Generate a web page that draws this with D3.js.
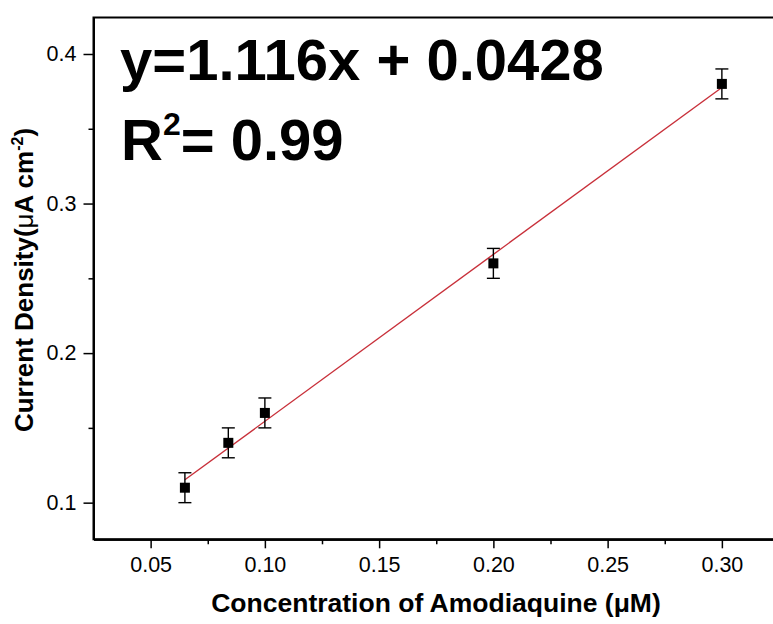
<!DOCTYPE html>
<html>
<head>
<meta charset="utf-8">
<script src="https://cdn.jsdelivr.net/npm/d3@7/dist/d3.min.js"></script>
<style>
  html, body { margin: 0; padding: 0; background: #fff; overflow: hidden; }
  svg { display: block; font-family: "Liberation Sans", Arial, sans-serif; }
</style>
</head>
<body>
<svg id="chart" width="773" height="624"></svg>
<script>
// Calibration data: concentration vs. current density
const concentration = [0.065, 0.084, 0.10, 0.20, 0.30];
const currentDensity = [0.11, 0.14, 0.16, 0.26, 0.38];
const errorBars = [0.01, 0.01, 0.01, 0.01, 0.01];

// Linear fit reported on the chart
const fitSlope = 1.116;
const fitIntercept = 0.0428;
const rSquared = "0.99";

const xTicks = [0.05, 0.10, 0.15, 0.20, 0.25, 0.30];
const xMinorTicks = [0.075, 0.125, 0.175, 0.225, 0.275];
const yTicks = [0.1, 0.2, 0.3, 0.4];
const yMinorTicks = [0.15, 0.25, 0.35];

const svg = d3.select("#chart");

const x = d3.scaleLinear().domain([0.025, 0.325]).range([93.5, 779]);
const y = d3.scaleLinear().domain([0.0755, 0.4244]).range([539.3, 17.5]);

const axisColor = "#000";

// Frame
svg.append("rect")
  .attr("x", x(0.025)).attr("y", y(0.4244))
  .attr("width", x(0.325) - x(0.025)).attr("height", y(0.0755) - y(0.4244))
  .attr("fill", "none").attr("stroke", axisColor).attr("stroke-width", 2);

// X axis
svg.append("g").attr("transform", `translate(0,${y(0.0755)})`)
  .call(d3.axisBottom(x).tickValues(xTicks).tickFormat(d3.format(".2f"))
    .tickSize(9).tickSizeOuter(0).tickPadding(8));
svg.append("g").attr("transform", `translate(0,${y(0.0755)})`)
  .call(d3.axisBottom(x).tickValues(xMinorTicks).tickFormat("")
    .tickSize(5).tickSizeOuter(0));

// Y axis
svg.append("g").attr("transform", `translate(${x(0.025)},0)`)
  .call(d3.axisLeft(y).tickValues(yTicks).tickFormat(d3.format(".1f"))
    .tickSize(10).tickSizeOuter(0).tickPadding(7));
svg.append("g").attr("transform", `translate(${x(0.025)},0)`)
  .call(d3.axisLeft(y).tickValues(yMinorTicks).tickFormat("")
    .tickSize(5).tickSizeOuter(0));

svg.selectAll(".domain").attr("stroke", axisColor).attr("stroke-width", 2);
svg.selectAll(".tick line").attr("stroke", axisColor).attr("stroke-width", 1.5);
svg.selectAll(".tick text")
  .attr("fill", "#000")
  .style("font-size", "21.5px")
  .style("font-family", "'Liberation Sans', Arial, sans-serif");

// Fitted line
const fitX = [d3.min(concentration), d3.max(concentration)];
svg.append("line")
  .attr("x1", x(fitX[0])).attr("y1", y(fitSlope * fitX[0] + fitIntercept))
  .attr("x2", x(fitX[1])).attr("y2", y(fitSlope * fitX[1] + fitIntercept))
  .attr("stroke", "#c8303a").attr("stroke-width", 1.4);

// Error bars and markers
const pts = concentration.map((c, i) => ({ c, v: currentDensity[i], e: errorBars[i] }));
const eb = svg.append("g").attr("stroke", "#000").attr("stroke-width", 1.4);
eb.selectAll(".stem").data(pts).join("line")
  .attr("x1", d => x(d.c)).attr("x2", d => x(d.c))
  .attr("y1", d => y(d.v - d.e)).attr("y2", d => y(d.v + d.e));
eb.selectAll(".capTop").data(pts).join("line")
  .attr("x1", d => x(d.c) - 6.5).attr("x2", d => x(d.c) + 6.5)
  .attr("y1", d => y(d.v + d.e)).attr("y2", d => y(d.v + d.e));
eb.selectAll(".capBot").data(pts).join("line")
  .attr("x1", d => x(d.c) - 6.5).attr("x2", d => x(d.c) + 6.5)
  .attr("y1", d => y(d.v - d.e)).attr("y2", d => y(d.v - d.e));

svg.append("g").selectAll("rect").data(pts).join("rect")
  .attr("x", d => x(d.c) - 5).attr("y", d => y(d.v) - 5)
  .attr("width", 10).attr("height", 10).attr("fill", "#000");

// Equation annotation
svg.append("text")
  .attr("x", 120).attr("y", 80)
  .style("font-size", "58px").style("font-weight", "bold")
  .text(`y=${fitSlope}x + ${fitIntercept}`);

const r2 = svg.append("text")
  .attr("x", 121).attr("y", 160)
  .style("font-size", "58px").style("font-weight", "bold");
r2.append("tspan").text("R");
r2.append("tspan").attr("dy", -25).style("font-size", "32px").text("2");
r2.append("tspan").attr("dy", 25).text(`= ${rSquared}`);

// Axis titles
svg.append("text")
  .attr("x", 436).attr("y", 612)
  .attr("text-anchor", "middle")
  .style("font-size", "26.5px").style("font-weight", "bold")
  .text("Concentration of Amodiaquine (μM)");

const yt = svg.append("text")
  .attr("transform", "translate(33,280) rotate(-90)")
  .attr("text-anchor", "middle")
  .style("font-size", "26px").style("font-weight", "bold");
yt.append("tspan").text("Current Density(");
yt.append("tspan").style("font-weight", "normal").text("μ");
yt.append("tspan").text("A cm");
yt.append("tspan").attr("dy", -10).style("font-size", "16px").text("-2");
yt.append("tspan").attr("dy", 10).text(")");
</script>
</body>
</html>
